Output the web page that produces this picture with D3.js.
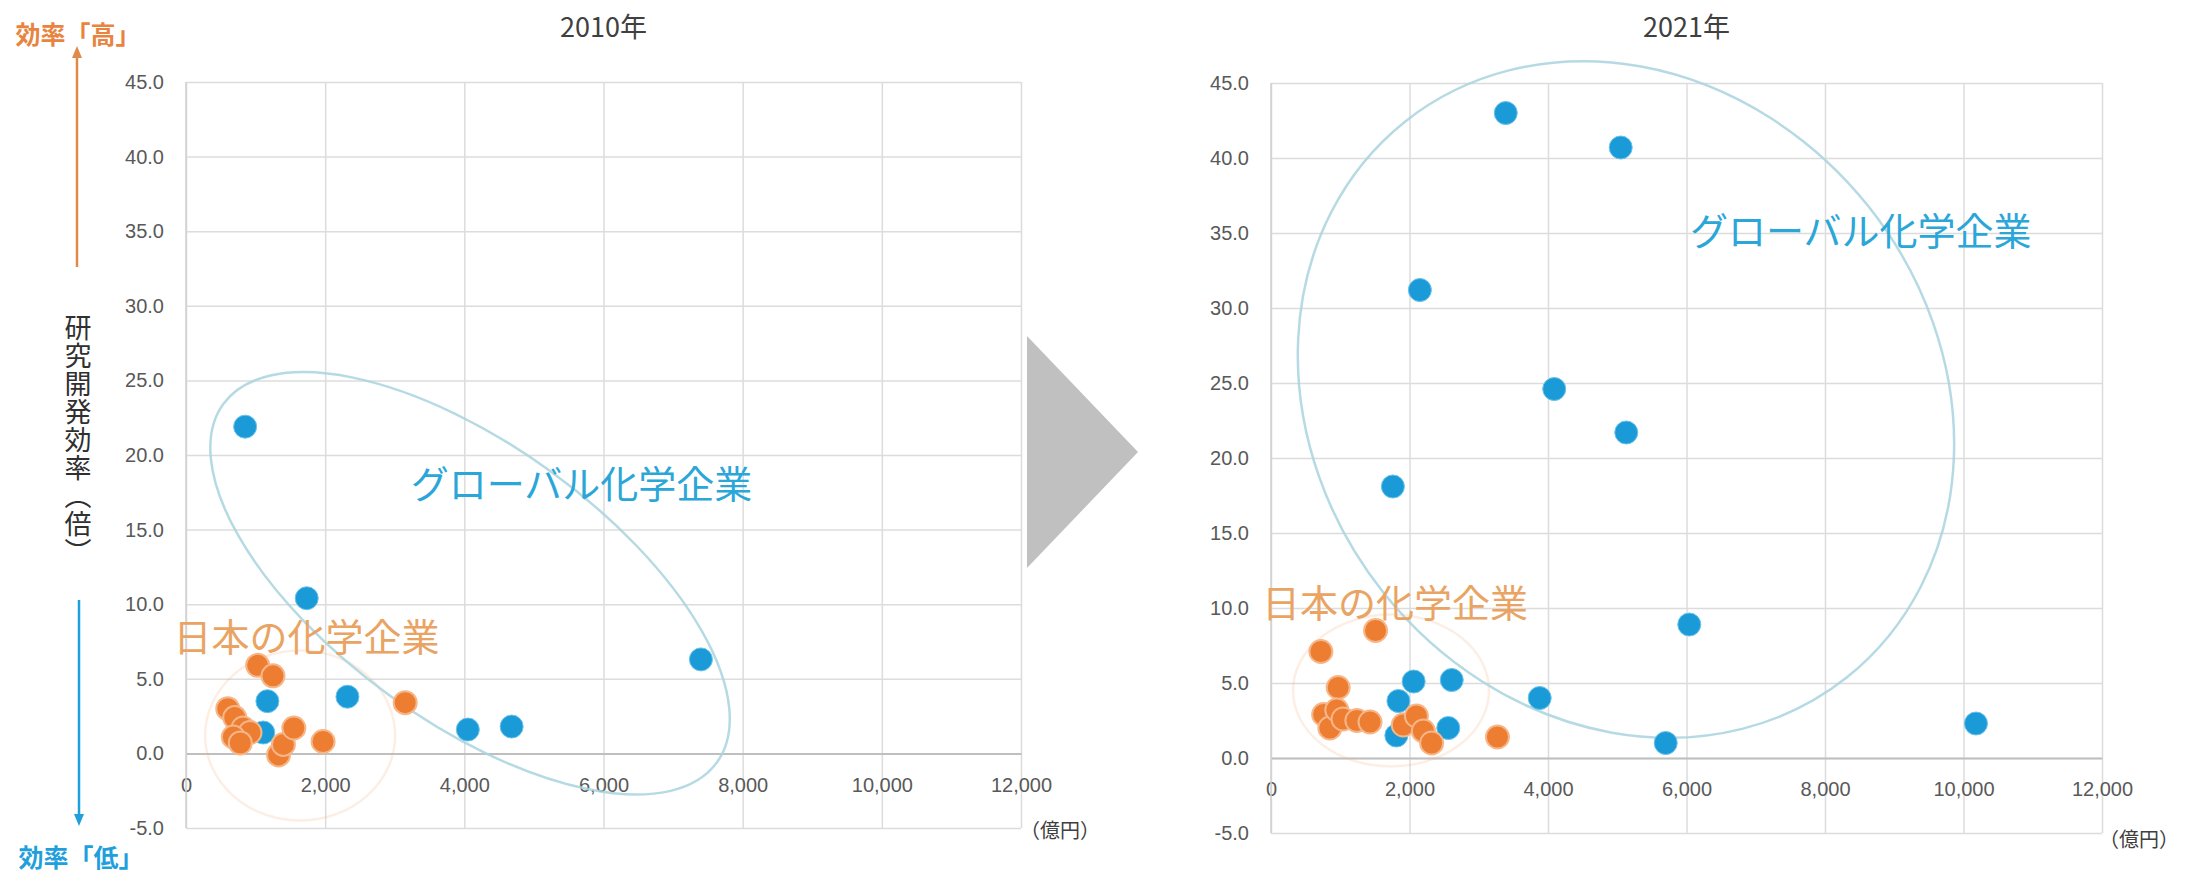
<!DOCTYPE html>
<html><head><meta charset="utf-8">
<script src="https://cdn.jsdelivr.net/npm/d3@7"></script>
<style>
html,body{margin:0;padding:0;background:#fff;}
svg{display:block;}
</style></head>
<body>
<svg id="c" width="2198" height="880"></svg>
<script>
// ---- data ----
const xTicks = [0, 2000, 4000, 6000, 8000, 10000, 12000];
const yTicks = [-5, 0, 5, 10, 15, 20, 25, 30, 35, 40, 45];
const titles = ["2010年", "2021年"];
const groupNames = ["グローバル化学企業", "日本の化学企業"];
const xUnit = "（億円）";
const yTitle = "研究開発効率（倍）";
const highLabel = "効率「高」";
const lowLabel = "効率「低」";

// [売上高(億円), 研究開発効率(倍)]
const global2010 = [[850,21.9],[1735,10.4],[1170,3.5],[1110,1.4],[2320,3.8],[4050,1.6],[4680,1.8],[7400,6.3]];
const japan2010  = [[600,3.0],[700,2.4],[820,1.7],[920,1.4],[680,1.1],[780,0.7],[1030,5.9],[1250,5.2],[1330,-0.1],[1400,0.6],[1550,1.7],[1970,0.8],[3150,3.4]];
const global2021 = [[3390,43.0],[5050,40.7],[2150,31.2],[4090,24.6],[5130,21.7],[1760,18.1],[2060,5.1],[1840,3.8],[2610,5.2],[3880,4.0],[2560,2.0],[1810,1.5],[5700,1.0],[6040,8.9],[10180,2.3]];
const japan2021  = [[720,7.1],[1510,8.5],[970,4.7],[760,2.9],[850,2.0],[950,3.2],[1040,2.6],[1240,2.5],[1430,2.4],[1910,2.2],[2100,2.8],[2200,1.8],[2320,1.0],[3270,1.4]];

// ---- layout / style ----
const BLUE = "#1a9bd7", ORANGE = "#ed7d31";
const panels = [
  { title: titles[0], g: global2010, j: japan2010, x0: 186, x1: 1021, yb: 828, yt: 82,
    gLabel: [3230, 18.2], jLabel: [-180, 8.0],
    gEll: {c:[4082, 11.4], rx: 305, ry: 138, rot: 36},
    jEll: {c:[1640, 1.2], rx: 95, ry: 85, rot: 0},
    unitPos: [1060, 829] },
  { title: titles[1], g: global2021, j: japan2021, x0: 1271, x1: 2102, yb: 833, yt: 83,
    gLabel: [6050, 35.3], jLabel: [-130, 10.5],
    gEll: {c:[5126, 23.9], rx: 355, ry: 310, rot: 51.5},
    jEll: {c:[1733, 4.5], rx: 98, ry: 76, rot: 0},
    unitPos: [2139, 838] }
];

const svg = d3.select("#c");
const numFont = "'Liberation Sans', Arial, sans-serif";
const jpFont = "'Noto Sans CJK JP', 'Noto Sans', sans-serif";

panels.forEach(p => {
  const x = d3.scaleLinear().domain([0, 12000]).range([p.x0, p.x1]);
  const y = d3.scaleLinear().domain([-5, 45]).range([p.yb, p.yt]);
  const g = svg.append("g");

  // horizontal gridlines + y labels
  const ya = g.append("g").attr("transform", `translate(${p.x0},0)`)
    .call(d3.axisLeft(y).tickValues(yTicks).tickSize(-(p.x1 - p.x0)).tickPadding(22)
      .tickFormat(d => d.toFixed(1)));
  ya.select(".domain").remove();
  ya.selectAll(".tick line").attr("stroke", "#dcdcdc").attr("stroke-width", 1.5);
  ya.selectAll(".tick text").attr("fill", "#595959").style("font-family", numFont).style("font-size", "20px");

  // vertical gridlines
  const xg = g.append("g").attr("transform", `translate(0,${p.yb})`)
    .call(d3.axisBottom(x).tickValues(xTicks).tickSize(-(p.yb - p.yt)).tickFormat(""));
  xg.select(".domain").remove();
  xg.selectAll(".tick line").attr("stroke", "#dcdcdc").attr("stroke-width", 1.5);

  // zero axis with labels
  const xa = g.append("g").attr("transform", `translate(0,${y(0)})`)
    .call(d3.axisBottom(x).tickValues(xTicks).tickSize(0).tickPadding(24).tickFormat(d3.format(",")));
  xa.select(".domain").attr("stroke", "#bfbfbf").attr("stroke-width", 2);
  xa.selectAll(".tick text").attr("fill", "#595959").style("font-family", numFont).style("font-size", "20px");

  // left axis line
  g.append("line").attr("x1", p.x0).attr("x2", p.x0).attr("y1", p.yt).attr("y2", p.yb)
    .attr("stroke", "#d0d0d0").attr("stroke-width", 1.5);

  // title
  g.append("text").attr("x", (p.x0 + p.x1) / 2).attr("y", 37).attr("text-anchor", "middle")
    .attr("fill", "#404040").style("font-family", jpFont).style("font-size", "27px").text(p.title);

  // unit
  g.append("text").attr("x", p.unitPos[0]).attr("y", p.unitPos[1]).attr("text-anchor", "middle")
    .attr("dominant-baseline", "central").attr("fill", "#404040")
    .style("font-family", jpFont).style("font-size", "20px").text(xUnit);

  // group ellipses
  const ell = (e, col, op, w) => g.append("ellipse")
    .attr("transform", `translate(${x(e.c[0])},${y(e.c[1])}) rotate(${e.rot})`)
    .attr("rx", e.rx).attr("ry", e.ry).attr("fill", "none")
    .attr("stroke", col).attr("stroke-opacity", op).attr("stroke-width", w);
  ell(p.jEll, "#f4b183", 0.22, 2.5);
  ell(p.gEll, "#a9d3de", 0.85, 2.5);

  // points
  g.append("g").selectAll("circle").data(p.g).join("circle")
    .attr("cx", d => x(d[0])).attr("cy", d => y(d[1])).attr("r", 11.5)
    .attr("fill", BLUE).attr("stroke", "#6cc3ec").attr("stroke-width", 1);
  g.append("g").selectAll("circle").data(p.j).join("circle")
    .attr("cx", d => x(d[0])).attr("cy", d => y(d[1])).attr("r", 11.5)
    .attr("fill", ORANGE).attr("stroke", "#f6b688").attr("stroke-width", 2);

  // group labels
  g.append("text").attr("x", x(p.gLabel[0])).attr("y", y(p.gLabel[1]))
    .attr("dominant-baseline", "central").attr("fill", "#2ba6d8")
    .style("font-family", jpFont).style("font-size", "38px").text(groupNames[0]);
  g.append("text").attr("x", x(p.jLabel[0])).attr("y", y(p.jLabel[1]))
    .attr("dominant-baseline", "central").attr("fill", "#e9a463")
    .style("font-family", jpFont).style("font-size", "38px").text(groupNames[1]);
});

// ---- left decorations: y-axis title and arrows ----
const dec = svg.append("g");
dec.append("text").attr("x", 78).attr("y", 314)
  .style("writing-mode", "vertical-rl").style("font-family", jpFont)
  .style("font-size", "27px").style("letter-spacing", "1px").attr("fill", "#303030").text(yTitle);

// orange arrow up
dec.append("line").attr("x1", 77).attr("x2", 77).attr("y1", 267).attr("y2", 56)
  .attr("stroke", "#e0894a").attr("stroke-width", 2.5);
dec.append("path").attr("d", "M77,46 L72,58 L82,58 Z").attr("fill", "#e0894a");
dec.append("text").attr("x", 78).attr("y", 33).attr("text-anchor", "middle").attr("dominant-baseline", "central")
  .attr("fill", "#e8843f").style("font-family", jpFont).style("font-size", "25px").style("font-weight", "bold").text(highLabel);

// blue arrow down
dec.append("line").attr("x1", 79).attr("x2", 79).attr("y1", 600).attr("y2", 815)
  .attr("stroke", "#1f9fdc").attr("stroke-width", 2.5);
dec.append("path").attr("d", "M79,826 L74,814 L84,814 Z").attr("fill", "#1f9fdc");
dec.append("text").attr("x", 81).attr("y", 856).attr("text-anchor", "middle").attr("dominant-baseline", "central")
  .attr("fill", "#1f9fdc").style("font-family", jpFont).style("font-size", "25px").style("font-weight", "bold").text(lowLabel);

// middle gray arrow
dec.append("path").attr("d", "M1027,336 L1027,568 L1138,452 Z").attr("fill", "#c0c0c0");
</script>
</body></html>
